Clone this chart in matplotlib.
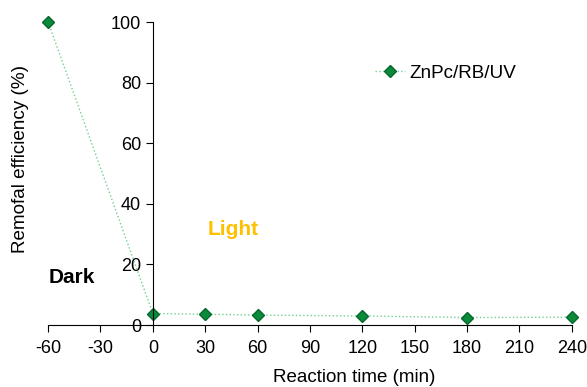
import matplotlib.pyplot as plt

plt.rcParams['font.family'] = ['Liberation Sans', 'DejaVu Sans']
plt.rcParams['axes.unicode_minus'] = False

time_min = [-60, 0, 30, 60, 120, 180, 240]
removal = [100, 3.8, 3.6, 3.3, 3.0, 2.5, 2.6]
x_ticks = [-60, -30, 0, 30, 60, 90, 120, 150, 180, 210, 240]
y_ticks = [0, 20, 40, 60, 80, 100]

fig = plt.figure(figsize=(5.87, 3.87), dpi=100)
ax = fig.add_axes([0.082, 0.160, 0.892, 0.783])

ax.plot(time_min, removal, linestyle=':', color='#6fd08e', linewidth=1,
        marker='D', markersize=6.2, markerfacecolor='#0b8a3c',
        markeredgecolor='#06682b', label='ZnPc/RB/UV', clip_on=False)

ax.set_xlim(-60, 240)
ax.set_ylim(0, 100)
ax.set_xticks(x_ticks)
ax.set_yticks(y_ticks)
ax.spines['left'].set_position(('data', 0))
ax.spines['top'].set_visible(False)
ax.spines['right'].set_visible(False)
ax.tick_params(direction='out', length=5, labelsize=13)
ax.tick_params(axis='x', pad=6)

fig.text(354 / 587, 1 - 378 / 387, 'Reaction time (min)', fontsize=13.5,
         ha='center', va='center')
fig.text(21 / 587, 1 - 159 / 387, 'Remofal efficiency (%)', rotation=90,
         fontsize=13.6, ha='center', va='center')

ax.text(-60, 15.8, 'Dark', fontsize=15, fontweight='bold', color='black',
        ha='left', va='center')
ax.text(31.5, 31.4, 'Light', fontsize=15, fontweight='bold', color='#ffc000',
        ha='left', va='center')

ax.legend(loc='center left', bbox_to_anchor=(375 / 587, 1 - 73 / 387),
          bbox_transform=fig.transFigure, frameon=False, borderpad=0,
          borderaxespad=0, fontsize=13.6, handlelength=1.6, handletextpad=0.2)

fig.savefig('out.png', dpi=100)
